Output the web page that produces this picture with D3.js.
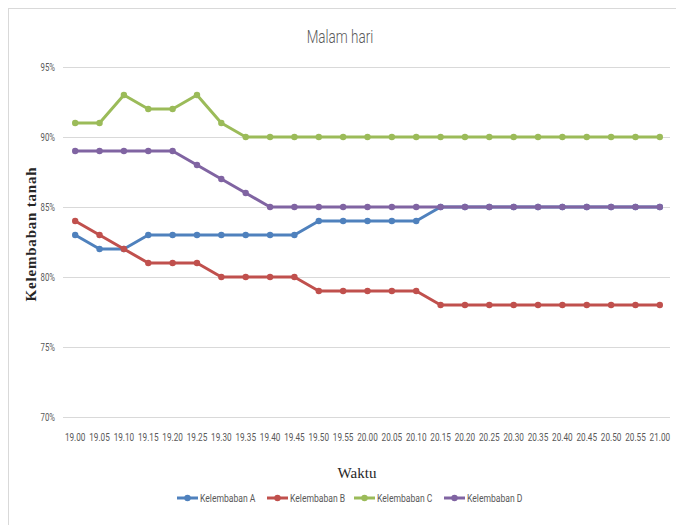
<!DOCTYPE html>
<html><head><meta charset="utf-8">
<script src="https://cdn.jsdelivr.net/npm/d3@7/dist/d3.min.js"></script>
<style>body{margin:0;background:#fff}svg{display:block}</style>
</head><body>
<script>
const categories = ["19.00","19.05","19.10","19.15","19.20","19.25","19.30","19.35","19.40","19.45","19.50","19.55","20.00","20.05","20.10","20.15","20.20","20.25","20.30","20.35","20.40","20.45","20.50","20.55","21.00"];
const kelembabanA = [83,82,82,83,83,83,83,83,83,83,84,84,84,84,84,85,85,85,85,85,85,85,85,85,85];
const kelembabanB = [84,83,82,81,81,81,80,80,80,80,79,79,79,79,79,78,78,78,78,78,78,78,78,78,78];
const kelembabanC = [91,91,93,92,92,93,91,90,90,90,90,90,90,90,90,90,90,90,90,90,90,90,90,90,90];
const kelembabanD = [89,89,89,89,89,88,87,86,85,85,85,85,85,85,85,85,85,85,85,85,85,85,85,85,85];
const yTicks = [70,75,80,85,90,95];
const seriesNames = ["Kelembaban A","Kelembaban B","Kelembaban C","Kelembaban D"];
const colors = ["#4F81BD","#C0504D","#9BBB59","#8064A2"];
const series = [kelembabanA,kelembabanB,kelembabanC,kelembabanD];

const W=676,H=525;
const svg=d3.select("body").append("svg").attr("width",W).attr("height",H);
svg.append("rect").attr("x",8.5).attr("y",8.5).attr("width",W-8).attr("height",H-8).attr("fill","#fff").attr("stroke","#d9d9d9");

const pL=63,pR=672,pT=67,pB=417;
const x=d3.scalePoint().domain(categories).range([pL,pR]).padding(0.5);
const y=d3.scaleLinear().domain([70,95]).range([pB,pT]);
const cond="Roboto,'Liberation Sans',sans-serif";
const sx=0.78;

svg.append("g").selectAll("line").data(yTicks).join("line")
  .attr("x1",pL).attr("x2",pR-2).attr("y1",d=>y(d)+0.5).attr("y2",d=>y(d)+0.5)
  .attr("stroke","#d9d9d9").attr("stroke-width",1);

svg.append("g").selectAll("text").data(yTicks).join("text")
  .attr("transform",d=>`translate(55,${y(d)+4}) scale(${sx},1)`).attr("text-anchor","end")
  .attr("font-family",cond).attr("font-size",10).attr("fill","#595959")
  .text(d=>d+"%");

svg.append("g").selectAll("text").data(categories).join("text")
  .attr("transform",d=>`translate(${x(d)},441) scale(${sx},1)`).attr("text-anchor","middle")
  .attr("font-family",cond).attr("font-size",10.5).attr("fill","#595959")
  .text(d=>d);

svg.append("text").attr("transform",`translate(340,43) scale(0.75,1)`).attr("text-anchor","middle")
  .attr("font-family",cond).attr("font-size",18).attr("font-weight",300).attr("fill","#595959").text("Malam hari");

svg.append("text").attr("transform","translate(36,234) rotate(-90)").attr("text-anchor","middle")
  .attr("font-family","'Liberation Serif','Times New Roman',serif").attr("font-size",15).attr("font-weight","bold")
  .attr("letter-spacing",0.8).attr("fill","#262626").text("Kelembaban tanah");

svg.append("text").attr("x",357).attr("y",478).attr("text-anchor","middle")
  .attr("font-family","'Liberation Serif','Times New Roman',serif").attr("font-size",15).attr("fill","#262626").text("Waktu");

const line=d3.line().x((d,i)=>x(categories[i])).y(d=>y(d));
series.forEach((s,k)=>{
  svg.append("path").datum(s).attr("d",line).attr("fill","none")
    .attr("stroke",colors[k]).attr("stroke-width",3).attr("stroke-linejoin","round");
  svg.append("g").selectAll("circle").data(s).join("circle")
    .attr("cx",(d,i)=>x(categories[i])).attr("cy",d=>y(d)).attr("r",3.2).attr("fill",colors[k]);
});

const legX=[177,267,354,444];
const lg=svg.append("g").selectAll("g").data(seriesNames).join("g")
  .attr("transform",(d,i)=>`translate(${legX[i]},498)`);
lg.append("line").attr("x1",0).attr("x2",21).attr("stroke",(d,i)=>colors[i]).attr("stroke-width",3);
lg.append("circle").attr("cx",10.5).attr("r",3.2).attr("fill",(d,i)=>colors[i]);
lg.append("text").attr("transform",`translate(23,4) scale(${sx},1)`).attr("font-family",cond).attr("font-size",11).attr("fill","#595959").text(d=>d);
</script>
</body></html>
